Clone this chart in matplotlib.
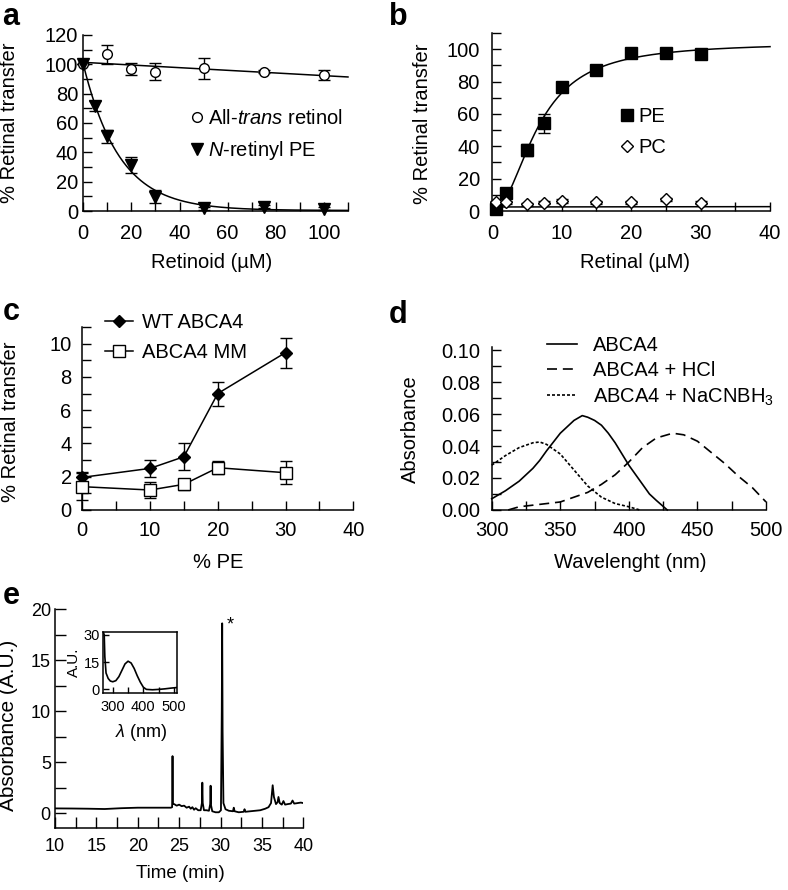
import numpy as np
import matplotlib
matplotlib.use('Agg')
import matplotlib.pyplot as plt
from matplotlib.ticker import MultipleLocator, FormatStrFormatter

plt.rcParams['font.family'] = ['Liberation Sans', 'DejaVu Sans']
plt.rcParams['mathtext.fontset'] = 'custom'
plt.rcParams['mathtext.rm'] = 'Liberation Sans'
plt.rcParams['mathtext.it'] = 'Liberation Sans:italic'
plt.rcParams['font.size'] = 14.5
plt.rcParams['axes.linewidth'] = 1.1
plt.rcParams['lines.linewidth'] = 1.1

#----- panel a: competition with retinoids -----
retinol_x = [0, 10, 20, 30, 50, 75, 100]
retinol_y = [100, 106.8, 96.8, 95, 97.3, 95, 92.7]
retinol_err = [0, 6.5, 3.8, 5.7, 7, 1, 3.6]
nrpe_x = [0, 5, 10, 20, 30, 50, 75, 100]
nrpe_y = [100, 71.6, 51, 31.4, 9.8, 1.8, 2.9, 1.4]
nrpe_err = [0, 3.6, 4.5, 5.7, 4.5, 1, 1, 1]

#----- panel b: PE vs PC -----
retinal_x = [0.5, 2, 5, 7.5, 10, 15, 20, 25, 30]
pe_y = [1, 11.3, 37.7, 54.2, 76.5, 87.2, 97.9, 97.5, 96.9]
pe_err = [1, 2, 4, 6, 3, 1.5, 2, 1, 2]
pc_y = [5.4, 5.4, 4.1, 5.2, 6.2, 5.4, 5.4, 7.2, 5.2]
pc_err = [1, 1, 0.8, 1, 1, 0.8, 0.8, 1, 0.8]
pc_fit_x = [0, 40]
pc_fit_y = [2.5, 2.7]

#----- panel c: WT vs MM -----
pe_pct = [0, 10, 15, 20, 30]
wt_y = [1.96, 2.5, 3.2, 7.0, 9.46]
wt_err = [0.3, 0.5, 0.8, 0.72, 0.9]
mm_y = [1.4, 1.2, 1.54, 2.54, 2.24]
mm_err = [0.8, 0.5, 0.35, 0.4, 0.7]

#----- panel d: spectra -----
abca4_wl = [300, 305, 310, 315, 320, 325, 330, 335, 340, 345, 350, 355, 360, 366, 370, 375,
            380, 385, 390, 395, 400, 405, 410, 415, 420, 428]
abca4_abs = [0.007, 0.0095, 0.012, 0.015, 0.018, 0.022, 0.026, 0.031, 0.037, 0.0425, 0.048,
             0.052, 0.056, 0.059, 0.058, 0.056, 0.053, 0.048, 0.042, 0.035, 0.028, 0.022,
             0.016, 0.010, 0.006, 0.0]
hcl_wl = [312, 320, 330, 340, 350, 360, 370, 380, 390, 400, 410, 420, 432, 440, 450, 460, 470, 480, 490, 500]
hcl_abs = [0.0, 0.002, 0.003, 0.004, 0.005, 0.008, 0.011, 0.016, 0.022, 0.030, 0.039, 0.045, 0.048, 0.047, 0.043, 0.036, 0.029, 0.021, 0.014, 0.005]
nacn_wl = [300, 310, 320, 330, 335, 340, 350, 360, 370, 380, 390, 400, 408]
nacn_abs = [0.028, 0.034, 0.039, 0.042, 0.0425, 0.041, 0.035, 0.025, 0.015, 0.008, 0.004, 0.002, 0.0]

#----- panel e: chromatogram -----
time_min = [10, 12, 14, 16, 18, 20, 22, 24.0, 24.15, 24.2, 24.25, 24.4, 24.7, 25.0, 25.3, 25.6,
            25.9, 26.2, 26.4, 26.6, 26.8, 27.0, 27.3, 27.6, 27.75, 27.8, 27.85, 28.0, 28.3, 28.6,
            28.75, 28.8, 28.85, 29.0, 29.4, 29.8, 30.05, 30.15, 30.2, 30.25, 30.35, 30.6, 31.0,
            31.5, 31.6, 31.7, 32.2, 32.8, 32.9, 33.0, 33.6, 34.2, 34.8, 35.4, 35.8, 36.1, 36.3,
            36.45, 36.7, 36.9, 37.0, 37.15, 37.4, 37.6, 37.8, 38.1, 38.5, 38.7, 38.9, 39.3, 39.7, 40]
absorb = [0.48, 0.47, 0.45, 0.42, 0.5, 0.55, 0.55, 0.55, 0.6, 5.6, 0.9, 0.9, 0.75, 0.85, 0.7, 0.75,
          0.55, 0.65, 0.45, 0.6, 0.35, 0.5, 0.3, 0.3, 1.0, 3.0, 1.0, 0.3, 0.3, 0.25,
          0.9, 2.7, 0.8, 0.2, 0.1, 0.1, 0.3, 10.0, 18.6, 8.0, 1.0, 0.4, 0.25,
          0.2, 0.55, 0.2, 0.1, 0.15, 0.4, 0.15, 0.2, 0.25, 0.3, 0.45, 0.6, 1.0, 2.75,
          1.6, 0.9, 1.1, 1.6, 1.0, 0.85, 1.2, 0.85, 0.9, 0.95, 1.25, 0.95, 1.0, 1.05, 1.0]
# inset uv spectrum of the * peak
inset_wl = [270, 272, 274, 278, 285, 292, 300, 310, 320, 330, 340, 350, 360, 370, 380, 390, 400,
            410, 430, 450, 470, 490, 508]
inset_au = [31, 30, 18, 9, 6, 4.6, 4.2, 4.8, 7, 10.5, 14, 15.5, 14.5, 11.5, 7.5, 4, 1.2,
            0, -0.2, 0, 0.3, 0.7, 1.0]


# fit helpers (least squares on the data above)
def fit_exp_decay(x, y):
    x = np.asarray(x, float)
    y = np.asarray(y, float)
    best = None
    for k in np.linspace(0.01, 0.3, 3000):
        A = np.column_stack((np.exp(-k * x), np.ones_like(x)))
        coef, *_ = np.linalg.lstsq(A, y, rcond=None)
        sse = np.sum((A @ coef - y) ** 2)
        if best is None or sse < best[0]:
            best = (sse, k, coef)
    return best[1], best[2]


def fit_hill(x, y):
    x = np.asarray(x, float)
    y = np.asarray(y, float)
    best = None
    for K in np.linspace(2, 20, 181):
        for n in np.linspace(1, 5, 81):
            f = x ** n / (K ** n + x ** n)
            vmax = np.dot(f, y) / np.dot(f, f)
            sse = np.sum((vmax * f - y) ** 2)
            if best is None or sse < best[0]:
                best = (sse, K, n, vmax)
    return best[1:]


def style_axes(ax, xpad, ypad, length=6.5):
    ax.spines['top'].set_visible(False)
    ax.spines['right'].set_visible(False)
    ax.tick_params(which='both', direction='in', width=1.0, length=length, top=False, right=False)
    ax.tick_params(axis='x', pad=xpad)
    ax.tick_params(axis='y', pad=ypad)


fig = plt.figure(figsize=(7.88, 8.9), dpi=100)
leg_kw = dict(frameon=False, borderpad=0, borderaxespad=0, numpoints=1,
              bbox_transform=fig.transFigure, loc='upper left', fontsize=14.5)

#===== panel a =====
ax = fig.add_axes([0.1057, 0.7629, 0.3359, 0.1978])
xs = np.linspace(0, 110, 300)
slope, icpt = np.polyfit(retinol_x, retinol_y, 1)
ax.plot(xs, slope * xs + icpt, color='black', lw=1.1, clip_on=False)
k, coef = fit_exp_decay(nrpe_x, nrpe_y)
ax.plot(xs, coef[0] * np.exp(-k * xs) + coef[1], color='black', lw=1.1, clip_on=False)
ax.errorbar(retinol_x, retinol_y, yerr=retinol_err, fmt='none', ecolor='black', elinewidth=1,
            capsize=4.5, capthick=1, clip_on=False)
ax.errorbar(nrpe_x, nrpe_y, yerr=nrpe_err, fmt='none', ecolor='black', elinewidth=1,
            capsize=4.5, capthick=1, clip_on=False)
h1, = ax.plot(retinol_x, retinol_y, 'o', ms=7, mfc='white', mec='black', mew=1,
              label='All-$\\mathit{trans}$ retinol', clip_on=False, zorder=4)
h2, = ax.plot(nrpe_x, nrpe_y, 'v', ms=9, color='black', label='$\\mathit{N}$-retinyl PE',
              clip_on=False, zorder=4)
ax.set_xlim(0, 110)
ax.set_ylim(0, 120)
ax.xaxis.set_major_locator(MultipleLocator(20))
ax.xaxis.set_minor_locator(MultipleLocator(10))
ax.yaxis.set_major_locator(MultipleLocator(20))
ax.yaxis.set_minor_locator(MultipleLocator(10))
style_axes(ax, 9, 3.6)
ax.set_xlabel('Retinoid (\u00b5M)')
ax.set_ylabel('% Retinal transfer')
ax.xaxis.set_label_coords(0.485, -0.239)
ax.yaxis.set_label_coords(-0.242, 0.5)
ax.legend(handles=[h1, h2], bbox_to_anchor=(190.7 / 788, 1 - 109 / 890), handlelength=0.6,
          handletextpad=0.28, labelspacing=0.55, **leg_kw)

#===== panel b =====
ax = fig.add_axes([0.6248, 0.7629, 0.3524, 0.2])
xs = np.linspace(0, 40, 300)
K, n, vmax = fit_hill(retinal_x, pe_y)
ax.plot(xs, vmax * xs ** n / (K ** n + xs ** n), color='black', lw=1.1, clip_on=False)
ax.plot(pc_fit_x, pc_fit_y, color='black', lw=1.1, clip_on=False)
ax.errorbar(retinal_x, pe_y, yerr=pe_err, fmt='none', ecolor='black', elinewidth=1,
            capsize=4.5, capthick=1, clip_on=False)
ax.errorbar(retinal_x, pc_y, yerr=pc_err, fmt='none', ecolor='black', elinewidth=1,
            capsize=4.5, capthick=1, clip_on=False)
h1, = ax.plot(retinal_x, pe_y, 's', ms=8, color='black', label='PE', clip_on=False, zorder=4)
h2, = ax.plot(retinal_x, pc_y, 'D', ms=6, mfc='white', mec='black', mew=1, label='PC',
              clip_on=False, zorder=4)
ax.set_xlim(0, 40)
ax.set_ylim(0, 110)
ax.xaxis.set_major_locator(MultipleLocator(10))
ax.xaxis.set_minor_locator(MultipleLocator(5))
ax.yaxis.set_major_locator(MultipleLocator(20))
ax.yaxis.set_minor_locator(MultipleLocator(10))
style_axes(ax, 9, 9)
ax.set_xlabel('Retinal (\u00b5M)')
ax.set_ylabel('% Retinal transfer')
ax.xaxis.set_label_coords(0.514, -0.236)
ax.yaxis.set_label_coords(-0.216, 0.49)
ax.legend(handles=[h1, h2], bbox_to_anchor=(620.7 / 788, 1 - 106.8 / 890), handlelength=0.6,
          handletextpad=0.28, labelspacing=0.59, **leg_kw)

#===== panel c =====
ax = fig.add_axes([0.1044, 0.4270, 0.3439, 0.2056])
ax.errorbar(pe_pct, wt_y, yerr=wt_err, fmt='none', ecolor='black', elinewidth=1,
            capsize=4.5, capthick=1, clip_on=False)
ax.errorbar(pe_pct, mm_y, yerr=mm_err, fmt='none', ecolor='black', elinewidth=1,
            capsize=4.5, capthick=1, clip_on=False)
h1, = ax.plot(pe_pct, wt_y, '-D', ms=6.5, color='black', lw=1.1, label='WT ABCA4',
              clip_on=False, zorder=4)
h2, = ax.plot(pe_pct, mm_y, '-s', ms=8, color='black', mfc='white', mew=1, lw=1.1,
              label='ABCA4 MM', clip_on=False, zorder=4)
ax.set_xlim(0, 40)
ax.set_ylim(0, 11)
ax.xaxis.set_major_locator(MultipleLocator(10))
ax.xaxis.set_minor_locator(MultipleLocator(5))
ax.yaxis.set_major_locator(MultipleLocator(2))
ax.yaxis.set_minor_locator(MultipleLocator(1))
style_axes(ax, 8, 7.6)
ax.set_xlabel('% PE')
ax.set_ylabel('% Retinal transfer')
ax.xaxis.set_label_coords(0.502, -0.235)
ax.yaxis.set_label_coords(-0.228, 0.48)
ax.legend(handles=[h1, h2], bbox_to_anchor=(105 / 788, 1 - 313 / 890), handlelength=1.41,
          handletextpad=0.42, labelspacing=0.55, **leg_kw)

#===== panel d =====
ax = fig.add_axes([0.624, 0.4270, 0.3481, 0.1831])
h1, = ax.plot(abca4_wl, abca4_abs, color='black', lw=1.2, label='ABCA4', clip_on=False)
h2, = ax.plot(hcl_wl, hcl_abs, color='black', lw=1.2, dashes=(6, 3.5), label='ABCA4 + HCl',
              clip_on=False)
h3, = ax.plot(nacn_wl, nacn_abs, color='black', lw=1.2, dashes=(1.8, 1.2),
              label='ABCA4 + NaCNBH$_3$', clip_on=False)
ax.set_xlim(300, 500)
ax.set_ylim(0, 0.1019)
ax.xaxis.set_major_locator(MultipleLocator(50))
ax.xaxis.set_minor_locator(MultipleLocator(25))
ax.yaxis.set_major_locator(MultipleLocator(0.02))
ax.yaxis.set_minor_locator(MultipleLocator(0.01))
ax.yaxis.set_major_formatter(FormatStrFormatter('%.2f'))
style_axes(ax, 8, 8.4)
ax.set_xlabel('Wavelenght (nm)')
ax.set_ylabel('Absorbance')
ax.xaxis.set_label_coords(0.504, -0.264)
ax.yaxis.set_label_coords(-0.263, 0.497)
ax.legend(handles=[h1, h2, h3], bbox_to_anchor=(546.7 / 788, 1 - 336 / 890), handlelength=1.49,
          handletextpad=0.8, labelspacing=0.31, **leg_kw)

#===== panel e =====
ax = fig.add_axes([55 / 788, 0.0693, 248.3 / 788, 0.2464])
ax.plot(time_min, absorb, color='black', lw=1.3)
ax.text(30.7, 18.0, '*', fontsize=13)
ax.set_xlim(10, 40)
ax.set_ylim(-1.47, 20)
ax.xaxis.set_major_locator(MultipleLocator(5))
ax.xaxis.set_minor_locator(MultipleLocator(2.5))
ax.yaxis.set_major_locator(MultipleLocator(5))
ax.yaxis.set_minor_locator(MultipleLocator(2.5))
style_axes(ax, 7, 3, length=8)
ax.tick_params(labelsize=13)
ax.set_xlabel('Time (min)', fontsize=13.5)
ax.set_ylabel('Absorbance (A.U.)', fontsize=15)
ax.xaxis.set_label_coords(0.503, -0.169)
ax.yaxis.set_label_coords(-0.149, 0.47)

# inset
axi = fig.add_axes([0.1307, 0.2213, 0.0939, 0.0685])
axi.plot(inset_wl, inset_au, color='black', lw=1.2)
axi.set_xlim(268, 510)
axi.set_ylim(-2, 31.5)
axi.set_xticks([300, 400, 500])
axi.xaxis.set_minor_locator(MultipleLocator(50))
axi.set_yticks([0, 15, 30])
axi.tick_params(which='both', direction='in', width=1.0, length=4, pad=2.2, labelsize=10.5)
axi.tick_params(axis='x', pad=5)
axi.set_xlabel('$\\lambda$ (nm)', fontsize=13)
axi.set_ylabel('A.U.', fontsize=11)
axi.xaxis.set_label_coords(0.52, -0.475)
axi.yaxis.set_label_coords(-0.3, 0.51)

# panel letters
for lx, ly, letter in [(2, 25, 'a'), (389, 25, 'b'), (3, 320, 'c'), (389, 323, 'd'), (3, 604, 'e')]:
    fig.text(lx / 788, 1 - ly / 890, letter, fontsize=22, fontweight='bold', va='baseline')

fig.savefig('out.png', dpi=100)
